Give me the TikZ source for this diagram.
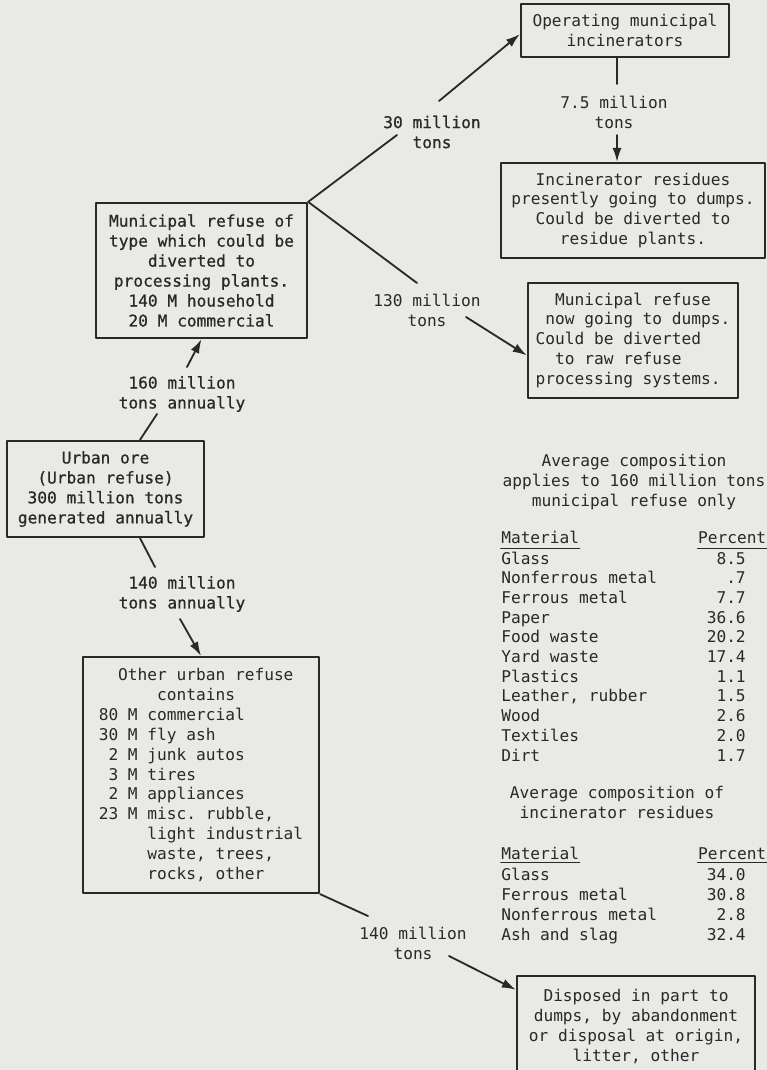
\documentclass[tikz,border=0pt]{standalone}
\usepackage{fontspec}
\setmonofont{DejaVu Sans Mono}
\newfontfamily\heavytype{DejaVu Sans Mono}[FakeBold=0.7]
\usetikzlibrary{arrows.meta}
\definecolor{paper}{RGB}{233,233,230}
\definecolor{ink}{RGB}{42,40,40}
\begin{document}
\begin{tikzpicture}[x=0.025cm, y=-0.025cm, line join=round, line cap=round, >={Latex[length=10pt,width=6.5pt]}, font=\ttfamily\fontsize{11.5}{14.2}\selectfont, ink]
	\tikzset{box/.style={draw=ink, line width=1.6pt, align=center, inner sep=0pt},
		flow/.style={line width=1.3pt},
		tons/.style={align=center, inner sep=0pt},
		heavy/.style={font=\heavytype\fontsize{11.5}{14.2}\selectfont},
		cell/.style={inner sep=0pt}}
	\fill[paper] (0,0) rectangle (767,1070);
	\useasboundingbox (0,0) rectangle (767,1070);
	\clip (0,0) rectangle (767,1070);
	\node[box, minimum width=5.2cm, minimum height=1.325cm] (incin) at (625,30.5) {Operating municipal\\incinerators};
	\node[box, minimum width=6.6cm, minimum height=2.375cm] (resid) at (633,210.5) {Incinerator residues\\presently going to dumps.\\Could be diverted to\\residue plants.};
	\node[box, minimum width=5.25cm, minimum height=2.875cm, align=left] (rawref) at (633,340.5) {\hphantom{00}Municipal refuse\\\hphantom{0}now going to dumps.\\Could be diverted\\\hphantom{00}to raw refuse\\processing systems.};
	\node[box, heavy, minimum width=5.275cm, minimum height=3.375cm] (munref) at (201.5,270.5) {Municipal refuse of\\type which could be\\diverted to\\processing plants.\\140 M household\\20 M commercial};
	\node[box, heavy, minimum width=4.925cm, minimum height=2.4cm] (ore) at (105.5,489) {Urban ore\\(Urban refuse)\\300 million tons\\generated annually};
	\node[box, minimum width=5.9cm, minimum height=5.9cm, align=left] (other) at (201,775) {\hphantom{00}Other urban refuse\\\hphantom{000000}contains\\80 M commercial\\30 M fly ash\\\hphantom{0}2 M junk autos\\\hphantom{0}3 M tires\\\hphantom{0}2 M appliances\\23 M misc. rubble,\\\hphantom{00000}light industrial\\\hphantom{00000}waste, trees,\\\hphantom{00000}rocks, other};
	\node[box, minimum width=5.95cm, minimum height=2.525cm] (disp) at (636,1026.5) {Disposed in part to\\dumps, by abandonment\\or disposal at origin,\\litter, other};
	\node[tons, heavy] (t30) at (432,132) {30 million\\tons};
	\node[tons] (t75) at (614,112) {7.5 million\\tons};
	\node[tons] (t130) at (427,310) {130 million\\tons};
	\node[tons, heavy] (t160) at (182,394) {160 million\\tons annually};
	\node[tons, heavy] (t140) at (182,594) {140 million\\tons annually};
	\node[tons] (t140b) at (413,943) {140 million\\tons};
	\path (397,135) coordinate (a30) (439,101) coordinate (b30)
		(617,84) coordinate (a75) (617,135) coordinate (b75)
		(417,283) coordinate (a130) (466,317) coordinate (b130)
		(157,414) coordinate (a160) (187,367) coordinate (b160)
		(155,567) coordinate (a140) (180,619) coordinate (b140)
		(368,916) coordinate (a140b) (449,956) coordinate (b140b);
	\draw[flow] (munref.north east) -- (a30);
	\draw[flow,->] (b30) -- (incin.182);
	\draw[flow] (incin.south -| a75) -- (a75);
	\draw[flow,->] (b75) -- (b75 |- resid.north);
	\draw[flow] (munref.north east) -- (a130);
	\draw[flow,->] (b130) -- (rawref.188);
	\draw[flow] ([xshift=0.8625cm]ore.north) -- (a160);
	\draw[flow,->] (b160) -- (munref.south);
	\draw[flow] ([xshift=0.8625cm]ore.south) -- (a140);
	\draw[flow,->] (b140) -- (other.north);
	\draw[flow] (other.south east) -- (a140b);
	\draw[flow,->] (b140b) -- (disp.163);
	\node[align=center, inner sep=0pt] (comp1) at (634,482) {Average composition\\applies to 160 million tons\\municipal refuse only};
	\node[cell, anchor=base west] (mat1) at (501,543) {Material};
	\node[cell, anchor=base east] (pct1) at (766.5,543) {Percent};
	\draw[flow] ([yshift=-0.125cm]mat1.south west) -- ([yshift=-0.125cm]mat1.south east);
	\draw[flow] ([yshift=-0.125cm]pct1.south west) -- ([yshift=-0.125cm]pct1.south east);
	\foreach \m/\p [count=\i from 0] in {Glass/8.5, Nonferrous metal/.7, Ferrous metal/7.7, Paper/36.6, Food waste/20.2, Yard waste/17.4, Plastics/1.1, Leather{,} rubber/1.5, Wood/2.6, Textiles/2.0, Dirt/1.7}
	{
		\node[cell, anchor=base west] (m1-\i) at (501,{564+19.7*\i}) {\m};
		\node[cell, anchor=base east] (p1-\i) at (746,{564+19.7*\i}) {\p};
	}
	\node[align=center, inner sep=0pt] (comp2) at (617,802) {Average composition of\\incinerator residues};
	\node[cell, anchor=base west] (mat2) at (501,859) {Material};
	\node[cell, anchor=base east] (pct2) at (766.5,859) {Percent};
	\draw[flow] ([yshift=-0.075cm]mat2.south west) -- ([yshift=-0.075cm]mat2.south east);
	\draw[flow] ([yshift=-0.075cm]pct2.south west) -- ([yshift=-0.075cm]pct2.south east);
	\foreach \m/\p [count=\i from 0] in {Glass/34.0, Ferrous metal/30.8, Nonferrous metal/2.8, Ash and slag/32.4}
	{
		\node[cell, anchor=base west] (m2-\i) at (501,{880+20*\i}) {\m};
		\node[cell, anchor=base east] (p2-\i) at (746,{880+20*\i}) {\p};
	}
\end{tikzpicture}
\end{document}
